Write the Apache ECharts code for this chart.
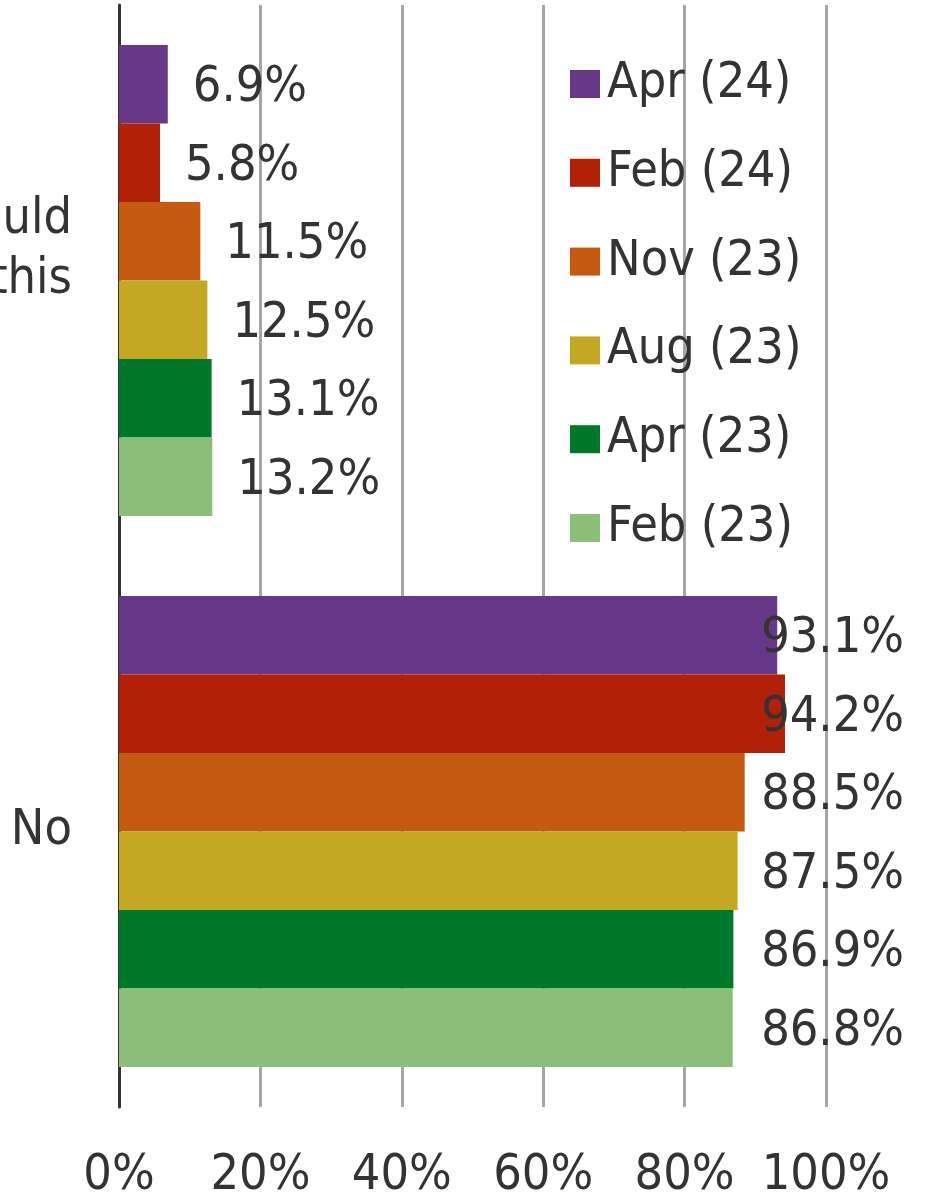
<!DOCTYPE html>
<html>
<head>
<meta charset="utf-8">
<script src="https://cdn.jsdelivr.net/npm/echarts@6/dist/echarts.min.js"></script>
<style>
  html, body { margin: 0; padding: 0; background: #fff; }
  #chart { width: 926px; height: 1197px; }
</style>
</head>
<body>
<div id="chart"></div>
<script>
const categories = ['Yes, I would\nconsider this\n ', 'No']
const seriesNames = ['Apr (24)', 'Feb (24)', 'Nov (23)', 'Aug (23)', 'Apr (23)', 'Feb (23)']
const seriesColors = ['#673888', '#b22008', '#c55a11', '#c4a823', '#00782a', '#8bbe78']
// one array per survey wave: [yes, no]
const apr24 = [6.9, 93.1]
const feb24 = [5.8, 94.2]
const nov23 = [11.5, 88.5]
const aug23 = [12.5, 87.5]
const apr23 = [13.1, 86.9]
const feb23 = [13.2, 86.8]
const xTicks = [0, 20, 40, 60, 80, 100]

const seriesData = [apr24, feb24, nov23, aug23, apr23, feb23]
const font = 'DejaVu Sans Condensed'
const textColor = '#333333'

const chart = echarts.init(document.getElementById('chart'))

const opts = {
  animation: false,
  textStyle: { fontFamily: font },
  legend: {
    orient: 'vertical',
    left: 565,
    top: 54,
    itemWidth: 30,
    itemHeight: 28,
    itemGap: 38.8,
    icon: 'rect',
    data: seriesNames,
    textStyle: {
      fontFamily: font,
      fontSize: 50,
      color: textColor,
      padding: [0, 0, 0, 2],
    },
  },
  grid: {
    left: 119,
    right: 100,
    top: 5,
    bottom: 90,
    containLabel: false,
    outerBoundsMode: 'none',
  },
  xAxis: {
    type: 'value',
    min: xTicks[0],
    max: xTicks[xTicks.length - 1],
    interval: 20,
    axisLine: { show: false },
    axisTick: { show: false },
    splitLine: {
      show: true,
      lineStyle: { color: '#a6a6a6', width: 3 },
    },
    axisLabel: {
      formatter: '{value}%',
      fontFamily: font,
      fontSize: 50,
      color: textColor,
      margin: 44,
      showMinLabel: true,
      showMaxLabel: true,
      hideOverlap: false,
    },
  },
  yAxis: {
    type: 'category',
    data: categories,
    inverse: true,
    axisLine: {
      show: true,
      lineStyle: { color: '#333333', width: 3 },
    },
    axisTick: { show: false },
    axisLabel: {
      fontFamily: font,
      fontSize: 50,
      lineHeight: 60,
      color: textColor,
      margin: 47,
    },
  },
  series: seriesNames.map((name, i) => ({
    name,
    type: 'bar',
    data: seriesData[i],
    barGap: '0%',
    barCategoryGap: '14.5%',
    itemStyle: { color: seriesColors[i] },
    label: {
      show: true,
      position: 'right',
      distance: 25,
      fontFamily: font,
      fontSize: 50,
      color: textColor,
      formatter: p => p.value.toFixed(1) + '%',
    },
    labelLayout: p => {
      const cy = p.rect.y + p.rect.height / 2 + 4
      // big bars: labels pulled back inside the chart, right aligned
      if (p.dataIndex === 1) {
        return { x: chart.getWidth() - 22, y: cy, align: 'right', verticalAlign: 'middle' }
      }
      return { y: cy, verticalAlign: 'middle' }
    },
  })),
}

chart.setOption(opts)
</script>
</body>
</html>
